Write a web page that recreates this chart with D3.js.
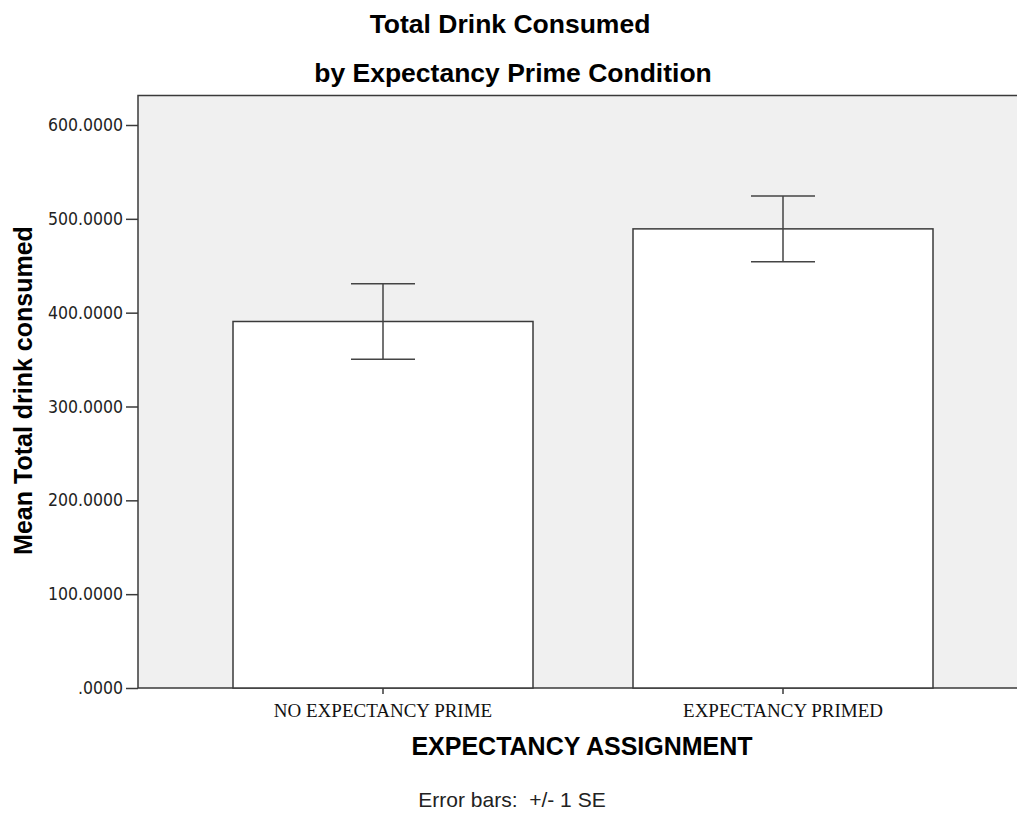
<!DOCTYPE html>
<html>
<head>
<meta charset="utf-8">
<script src="https://cdn.jsdelivr.net/npm/d3@7"></script>
<style>
  body { margin: 0; background: #fff; overflow: hidden; }
</style>
</head>
<body>
<script>
// Bar chart with +/- 1 SE error bars

var categories = ["NO EXPECTANCY PRIME", "EXPECTANCY PRIMED"];
var means = [390.6, 489.3];
var stdErrors = [40.2, 35.0];
var yTicks = [0, 100, 200, 300, 400, 500, 600];

var svgWidth = 1017;
var svgHeight = 814;

// plot frame (right edge runs past the window, as in the original)
var plot = { left: 138, top: 95.5, right: 1028, bottom: 688 };

var svg = d3.select("body")
  .append("svg")
  .attr("width", svgWidth)
  .attr("height", svgHeight);

// y scale: 0 at the bottom of frame, 600 at y=125
var yPerUnit = (688 - 125) / 600;
var yTopValue = (plot.bottom - plot.top) / yPerUnit;

var yScale = d3.scaleLinear()
  .domain([0, yTopValue])
  .range([plot.bottom, plot.top]);

var xScale = d3.scaleBand()
  .domain(categories)
  .range([plot.left, plot.right])
  .paddingInner(0.25)
  .paddingOuter(0.2375);

// background
svg.append("rect")
  .attr("x", plot.left)
  .attr("y", plot.top)
  .attr("width", plot.right - plot.left)
  .attr("height", plot.bottom - plot.top)
  .attr("fill", "#f0f0f0")
  .attr("stroke", "#3a3a3a")
  .attr("stroke-width", 1.5);

// bars
svg.selectAll(".bar")
  .data(categories)
  .enter()
  .append("rect")
  .attr("class", "bar")
  .attr("x", d => xScale(d))
  .attr("y", (d, i) => yScale(means[i]))
  .attr("width", xScale.bandwidth())
  .attr("height", (d, i) => yScale(0) - yScale(means[i]))
  .attr("fill", "#ffffff")
  .attr("stroke", "#3a3a3a")
  .attr("stroke-width", 1.5);

// error bars
var capHalf = 32;
var errGroup = svg.selectAll(".err")
  .data(categories)
  .enter()
  .append("g")
  .attr("class", "err")
  .attr("stroke", "#444")
  .attr("stroke-width", 1.5);

errGroup.append("line")
  .attr("x1", d => xScale(d) + xScale.bandwidth() / 2)
  .attr("x2", d => xScale(d) + xScale.bandwidth() / 2)
  .attr("y1", (d, i) => yScale(means[i] + stdErrors[i]))
  .attr("y2", (d, i) => yScale(means[i] - stdErrors[i]));

errGroup.append("line")
  .attr("x1", d => xScale(d) + xScale.bandwidth() / 2 - capHalf)
  .attr("x2", d => xScale(d) + xScale.bandwidth() / 2 + capHalf)
  .attr("y1", (d, i) => yScale(means[i] + stdErrors[i]))
  .attr("y2", (d, i) => yScale(means[i] + stdErrors[i]));

errGroup.append("line")
  .attr("x1", d => xScale(d) + xScale.bandwidth() / 2 - capHalf)
  .attr("x2", d => xScale(d) + xScale.bandwidth() / 2 + capHalf)
  .attr("y1", (d, i) => yScale(means[i] - stdErrors[i]))
  .attr("y2", (d, i) => yScale(means[i] - stdErrors[i]));

// y axis
var leftAxis = d3.axisLeft(yScale)
  .tickValues(yTicks)
  .tickSize(12)
  .tickPadding(3)
  .tickFormat(d => d === 0 ? ".0000" : d3.format(".4f")(d));

var yAxis = svg.append("g")
  .attr("transform", `translate(${plot.left}, 0)`)
  .call(leftAxis);

yAxis.select(".domain").remove();
yAxis.selectAll("line").attr("stroke", "#3a3a3a").attr("stroke-width", 1.5);
yAxis.selectAll("text")
  .attr("fill", "#222")
  .style("font-family", "'DejaVu Sans Condensed', 'DejaVu Sans', sans-serif")
  .style("font-size", "17.5px");

// x axis
var bottomAxis = d3.axisBottom(xScale)
  .tickSize(6)
  .tickPadding(6);

var xAxis = svg.append("g")
  .attr("transform", `translate(0, ${plot.bottom})`)
  .call(bottomAxis);

xAxis.select(".domain").remove();
xAxis.selectAll("line").attr("stroke", "#3a3a3a").attr("stroke-width", 1.5);
xAxis.selectAll("text")
  .attr("fill", "#111")
  .attr("dy", null)
  .attr("y", 29)
  .style("font-family", "'Liberation Serif', serif")
  .style("font-size", "19px");

// titles
svg.append("text")
  .attr("x", 510)
  .attr("y", 33)
  .attr("text-anchor", "middle")
  .style("font-family", "'Liberation Sans', Arial, sans-serif")
  .style("font-weight", "bold")
  .style("font-size", "26.5px")
  .text("Total Drink Consumed");

svg.append("text")
  .attr("x", 513)
  .attr("y", 82)
  .attr("text-anchor", "middle")
  .style("font-family", "'Liberation Sans', Arial, sans-serif")
  .style("font-weight", "bold")
  .style("font-size", "26.5px")
  .text("by Expectancy Prime Condition");

svg.append("text")
  .attr("x", 582)
  .attr("y", 755)
  .attr("text-anchor", "middle")
  .style("font-family", "'Liberation Sans', Arial, sans-serif")
  .style("font-weight", "bold")
  .style("font-size", "25px")
  .text("EXPECTANCY ASSIGNMENT");

svg.append("text")
  .attr("transform", "translate(32, 390.5) rotate(-90)")
  .attr("text-anchor", "middle")
  .style("font-family", "'Liberation Sans', Arial, sans-serif")
  .style("font-weight", "bold")
  .style("font-size", "25px")
  .text("Mean Total drink consumed");

svg.append("text")
  .attr("x", 512)
  .attr("y", 807)
  .attr("text-anchor", "middle")
  .attr("fill", "#222")
  .style("font-family", "'Liberation Sans', Arial, sans-serif")
  .style("font-size", "21px")
  .style("white-space", "pre")
  .text("Error bars:  +/- 1 SE");
</script>
</body>
</html>
